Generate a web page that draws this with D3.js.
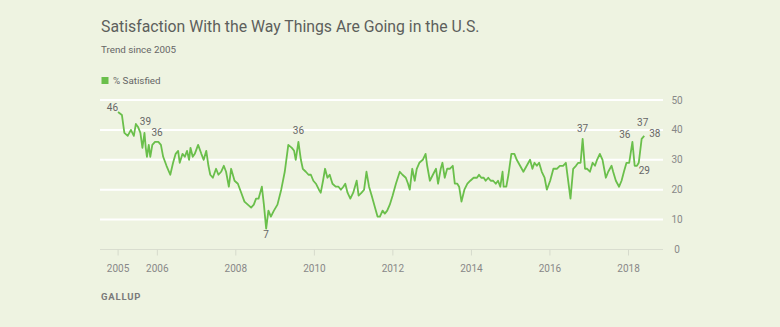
<!DOCTYPE html>
<html>
<head>
<meta charset="utf-8">
<script src="https://cdn.jsdelivr.net/npm/d3@7"></script>
<style>
  body { margin: 0; background: #eef3e1; }
  svg { display: block; font-family: Roboto, "Open Sans", sans-serif; }
</style>
</head>
<body>
<div id="chart"></div>
<script>
// Poll dates and % satisfied
const pollDates = [
  "2005-01-05","2005-02-10","2005-03-05","2005-04-05","2005-05-05","2005-06-01","2005-06-20","2005-07-10","2005-08-01","2005-08-20","2005-09-08","2005-09-20","2005-10-01","2005-10-18","2005-11-01","2005-11-20","2005-12-15",
  "2006-01-15","2006-02-08","2006-03-01","2006-04-01","2006-05-06","2006-06-01","2006-06-25","2006-07-18","2006-08-02","2006-08-28","2006-09-18","2006-10-09","2006-10-28","2006-11-10","2006-12-01","2006-12-20",
  "2007-01-20","2007-02-19","2007-03-13","2007-04-06","2007-04-26","2007-05-13","2007-06-06","2007-07-06","2007-07-28","2007-08-22","2007-09-16","2007-10-07","2007-11-02","2007-11-23","2007-12-25",
  "2008-01-25","2008-02-25","2008-03-26","2008-04-26","2008-05-27","2008-06-21","2008-07-12","2008-08-04","2008-09-04","2008-09-23","2008-10-14","2008-11-04","2008-11-27","2008-12-25",
  "2009-01-27","2009-03-03","2009-04-05","2009-05-08","2009-06-10","2009-07-01","2009-07-16","2009-08-10","2009-09-02","2009-09-20","2009-10-18","2009-11-12","2009-12-04","2009-12-27",
  "2010-01-20","2010-02-17","2010-03-06","2010-03-27","2010-04-15","2010-05-07","2010-05-28","2010-06-23","2010-07-23","2010-08-18","2010-09-09","2010-10-02","2010-10-20","2010-11-10","2010-12-06",
  "2011-01-02","2011-02-03","2011-02-21","2011-03-21","2011-04-13","2011-05-05","2011-05-29","2011-06-23","2011-07-24","2011-08-16","2011-09-07","2011-10-02","2011-10-23","2011-11-14","2011-12-08",
  "2012-01-03","2012-02-03","2012-03-10","2012-04-04","2012-05-05","2012-05-26","2012-06-11","2012-07-04","2012-07-27","2012-08-15","2012-09-08","2012-10-10","2012-11-05","2012-11-20","2012-12-15",
  "2013-01-12","2013-02-10","2013-03-01","2013-03-26","2013-04-11","2013-05-02","2013-05-25","2013-06-18","2013-07-16","2013-08-04","2013-08-27","2013-09-13","2013-10-05","2013-11-01","2013-11-29","2013-12-26",
  "2014-01-26","2014-02-26","2014-03-17","2014-04-07","2014-04-30","2014-05-18","2014-06-11","2014-07-04","2014-07-27","2014-08-20","2014-09-10","2014-10-01","2014-10-22","2014-11-01","2014-11-26","2014-12-16",
  "2015-01-12","2015-02-09","2015-03-03","2015-04-03","2015-05-04","2015-06-04","2015-07-05","2015-07-27","2015-08-15","2015-09-06","2015-09-27","2015-10-22","2015-11-17","2015-12-08",
  "2016-01-08","2016-02-07","2016-03-10","2016-04-07","2016-05-07","2016-06-02","2016-07-15","2016-08-09","2016-09-04","2016-09-25","2016-10-17","2016-11-05","2016-11-27","2016-12-17",
  "2017-01-12","2017-02-06","2017-02-28","2017-03-19","2017-04-14","2017-05-09","2017-06-09","2017-07-01","2017-08-01","2017-08-16","2017-09-10","2017-10-10","2017-11-02","2017-11-24","2017-12-18",
  "2018-01-12","2018-02-11","2018-03-04","2018-03-25","2018-04-11","2018-05-08","2018-06-01"
];
const satisfied = [
  46,45,39,38,40,38,42,41,39,34,39,34,31,35,31,35,36,
  36,35,31,28,25,29,32,33,29,32,31,33,30,34,31,32,
  35,32,30,33,28,25,24,27,25,26,28,26,21,27,23,
  22,19,16,15,14,15,17,17,21,15,7,13,11,13,
  15,20,26,35,34,33,30,36,30,27,26,25,25,23,
  22,20,19,23,27,24,25,22,21,21,20,21,22,19,17,
  19,23,18,19,20,26,21,18,14,11,11,13,12,13,15,
  18,22,26,25,24,22,20,27,23,27,29,30,32,28,23,
  25,27,22,27,29,24,27,27,28,22,22,21,16,20,22,23,
  24,24,25,24,24,23,24,23,23,22,23,21,26,21,21,25,
  32,32,30,28,26,28,30,27,29,28,29,26,24,20,
  23,27,27,28,28,29,17,27,28,29,29,37,27,27,
  26,29,28,30,32,30,24,26,28,26,23,21,23,26,29,
  29,36,28,28,29,37,38
];

// Polls that carry a value label
const calloutDates = ["2005-01-05","2005-09-08","2005-12-15","2008-10-14","2009-08-10",
                      "2016-11-05","2018-02-11","2018-04-11","2018-05-08","2018-06-01"];

const yearTicks = [2005, 2006, 2008, 2010, 2012, 2014, 2016, 2018];
const valueTicks = [0, 10, 20, 30, 40, 50];

const parseDate = d3.timeParse("%Y-%m-%d");
const data = pollDates.map((d, i) => ({ key: d, date: parseDate(d), value: satisfied[i] }));

// Chart dimensions
const width = 780, height = 327;
const plot = { left: 100, right: 663, top: 100, bottom: 249.5 };

const svg = d3.select("#chart")
  .append("svg")
  .attr("width", width)
  .attr("height", height);

svg.append("rect")
  .attr("width", width)
  .attr("height", height)
  .attr("fill", "#eef3e1");

// Scales
const x = d3.scaleTime()
  .domain([new Date(2005, 0, 1), new Date(2018, 0, 1)])
  .range([117.6, 628]);

const y = d3.scaleLinear()
  .domain([0, 50])
  .range([plot.bottom, plot.top]);

// Title block
svg.append("text")
  .attr("x", 101)
  .attr("y", 32)
  .attr("font-size", "15.8px")
  .attr("fill", "#5d5f5c")
  .text("Satisfaction With the Way Things Are Going in the U.S.");

svg.append("text")
  .attr("x", 101)
  .attr("y", 53)
  .attr("font-size", "9.8px")
  .attr("fill", "#666")
  .text("Trend since 2005");

// Legend
svg.append("rect")
  .attr("x", 101.5)
  .attr("y", 77)
  .attr("width", 7)
  .attr("height", 7)
  .attr("fill", "#6abf4b");

svg.append("text")
  .attr("x", 113)
  .attr("y", 84)
  .attr("font-size", "9.8px")
  .attr("fill", "#666")
  .text("% Satisfied");

// Gridlines
svg.append("g")
  .selectAll("line")
  .data(valueTicks)
  .join("line")
  .attr("x1", plot.left)
  .attr("x2", plot.right)
  .attr("y1", d => y(d))
  .attr("y2", d => y(d))
  .attr("stroke", d => d === 0 ? "#d9ddcf" : "#ffffff")
  .attr("stroke-width", d => d === 0 ? 1 : 2);

// Y axis labels on the right
svg.append("g")
  .selectAll("text")
  .data(valueTicks)
  .join("text")
  .attr("x", 677)
  .attr("y", d => y(d))
  .attr("dy", "0.35em")
  .attr("text-anchor", "middle")
  .attr("font-size", "10px")
  .attr("fill", "#888")
  .text(d => d);

// X axis
const xAxis = d3.axisBottom(x)
  .tickValues(yearTicks.map(yr => new Date(yr, 0, 1)))
  .tickFormat(d3.timeFormat("%Y"))
  .tickSize(6)
  .tickPadding(9);

const xAxisG = svg.append("g")
  .attr("transform", `translate(0,${plot.bottom})`)
  .call(xAxis);

xAxisG.select(".domain").remove();
xAxisG.selectAll(".tick line").attr("stroke", "#d6dacc");
xAxisG.selectAll(".tick text")
  .attr("font-family", "Roboto, 'Open Sans', sans-serif")
  .attr("font-size", "10px")
  .attr("fill", "#888");

// Trend line
const line = d3.line()
  .x(d => x(d.date))
  .y(d => y(d.value));

svg.append("path")
  .datum(data)
  .attr("fill", "none")
  .attr("stroke", "#6abf4b")
  .attr("stroke-width", 1.8)
  .attr("stroke-linejoin", "round")
  .attr("d", line);

// Value callouts: where each label sits relative to its point
const placement = {
  "2005-01-05": { anchor: "end",    dx: 0,   dy: -1 },
  "2005-09-08": { anchor: "middle", dx: 1,   dy: -8 },
  "2005-12-15": { anchor: "middle", dx: 2,   dy: -6 },
  "2008-10-14": { anchor: "middle", dx: 0,   dy: 9 },
  "2009-08-10": { anchor: "middle", dx: 0,   dy: -8 },
  "2016-11-05": { anchor: "middle", dx: 0,   dy: -7 },
  "2018-02-11": { anchor: "end",    dx: -2,  dy: -4 },
  "2018-04-11": { anchor: "start",  dx: 0,   dy: 11 },
  "2018-05-08": { anchor: "middle", dx: 1,   dy: -13 },
  "2018-06-01": { anchor: "start",  dx: 5,   dy: 1 }
};

svg.append("g")
  .selectAll("text")
  .data(data.filter(d => calloutDates.includes(d.key)))
  .join("text")
  .attr("x", d => x(d.date) + placement[d.key].dx)
  .attr("y", d => y(d.value) + placement[d.key].dy)
  .attr("text-anchor", d => placement[d.key].anchor)
  .attr("font-size", "10px")
  .attr("fill", "#666")
  .text(d => d.value);

// Source
svg.append("text")
  .attr("x", 101)
  .attr("y", 300)
  .attr("font-size", "9.5px")
  .attr("font-weight", "bold")
  .attr("letter-spacing", "0.8px")
  .attr("fill", "#7a7a7a")
  .text("GALLUP");
</script>
</body>
</html>
